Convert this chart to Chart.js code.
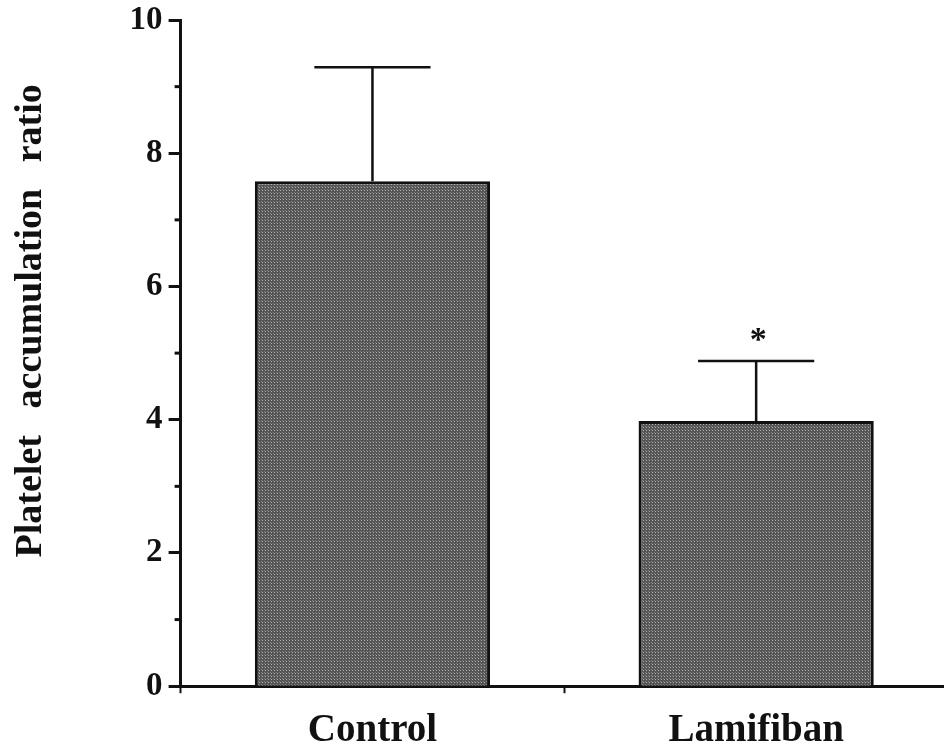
<!DOCTYPE html>
<html>
<head>
<meta charset="utf-8">
<script src="https://cdn.jsdelivr.net/npm/chart.js@4.4.1/dist/chart.umd.min.js"></script>
<style>
    html, body { margin: 0; padding: 0; background: #fff; overflow: hidden; }
    #chart { display: block; }
</style>
</head>
<body>
<canvas id="chart" width="950" height="753"></canvas>
<script>
/* Data */
const categories = ["Control", "Lamifiban"];
const meanValues = [7.58, 3.98];
const errorValues = [1.71, 0.90];
const significance = ["", "*"];
const majorTicks = [0, 2, 4, 6, 8, 10];
const minorTicks = [1, 3, 5, 7, 9];

const serif = "'Liberation Serif', 'Times New Roman', serif";

/* Dotted grey fill like the scanned bars */
function makeDotPattern() {
    const tile = document.createElement("canvas");
    tile.width = 3;
    tile.height = 3;
    const t = tile.getContext("2d");
    t.fillStyle = "#555";
    t.fillRect(0, 0, 3, 3);
    t.fillStyle = "#b0b0b0";
    t.fillRect(1, 1, 1, 1);
    t.fillStyle = "#808080";
    t.fillRect(0, 0, 1, 1);
    return document.getElementById("chart").getContext("2d").createPattern(tile, "repeat");
}

/* Upper error bars, asterisk and minor y ticks */
const extrasPlugin = {
    id: "extras",
    afterDatasetsDraw(chart) {
        const ctx = chart.ctx;
        const yScale = chart.scales.y;
        const meta = chart.getDatasetMeta(0);
        ctx.save();
        ctx.strokeStyle = "#111";
        ctx.lineWidth = 2.5;
        meta.data.forEach((bar, i) => {
            const yTop = yScale.getPixelForValue(meanValues[i] + errorValues[i]);
            const half = bar.width * 0.247;
            ctx.beginPath();
            ctx.moveTo(bar.x, bar.y);
            ctx.lineTo(bar.x, yTop);
            ctx.moveTo(bar.x - half, yTop);
            ctx.lineTo(bar.x + half, yTop);
            ctx.stroke();
            if (significance[i]) {
                ctx.fillStyle = "#111";
                ctx.font = "bold 34px " + serif;
                ctx.textAlign = "center";
                ctx.textBaseline = "middle";
                ctx.fillText(significance[i], bar.x + 2, yTop - 20);
            }
        });
        ctx.lineWidth = 3;
        const axisX = chart.chartArea.left;
        minorTicks.forEach(v => {
            const y = yScale.getPixelForValue(v);
            ctx.beginPath();
            ctx.moveTo(axisX - 6, y);
            ctx.lineTo(axisX, y);
            ctx.stroke();
        });
        ctx.restore();
    }
};

new Chart(document.getElementById("chart"), {
    type: "bar",
    data: {
        labels: categories,
        datasets: [{
            data: meanValues,
            backgroundColor: makeDotPattern(),
            borderColor: "#111",
            borderWidth: 3,
            barPercentage: 0.613,
            categoryPercentage: 1.0
        }]
    },
    options: {
        responsive: false,
        animation: false,
        devicePixelRatio: 1,
        layout: { padding: { left: 0, right: 2, top: -5, bottom: -15 } },
        plugins: {
            legend: { display: false },
            tooltip: { enabled: false }
        },
        scales: {
            x: {
                grid: {
                    offset: true,
                    drawOnChartArea: false,
                    tickLength: 7,
                    tickWidth: 2,
                    tickColor: "#111"
                },
                border: { color: "#111", width: 3 },
                ticks: {
                    color: "#111",
                    padding: 14,
                    font: { family: serif, size: 39, weight: "bold" }
                }
            },
            y: {
                min: 0,
                max: 10,
                afterBuildTicks: scale => {
                    scale.ticks = majorTicks.map(v => ({ value: v }));
                },
                grid: {
                    drawOnChartArea: false,
                    tickLength: 12,
                    tickWidth: 3,
                    tickColor: "#111"
                },
                border: { color: "#111", width: 3 },
                ticks: {
                    color: "#111",
                    padding: 6,
                    font: { family: serif, size: 33, weight: "bold", lineHeight: 0.85 }
                },
                title: {
                    display: true,
                    text: "      \u2009Platelet  \u2009accumulation  \u2009ratio",
                    color: "#111",
                    padding: { top: 8, bottom: 70 },
                    font: { family: serif, size: 38, weight: "bold" }
                }
            }
        }
    },
    plugins: [extrasPlugin]
});
</script>
</body>
</html>
